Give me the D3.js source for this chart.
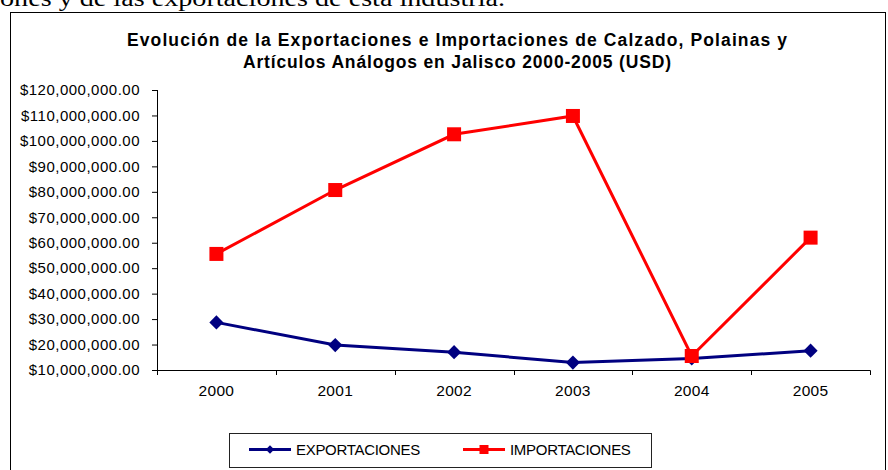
<!DOCTYPE html>
<html>
<head>
<meta charset="utf-8">
<script src="https://cdn.jsdelivr.net/npm/d3@7"></script>
<style>
  html, body { margin: 0; padding: 0; background: #fff; }
  svg { display: block; }
  text { font-family: "Liberation Sans", Arial, sans-serif; fill: #000; }
</style>
</head>
<body>
<svg id="chart" width="888" height="470"></svg>
<script>
// ---- data ----
const years = ["2000", "2001", "2002", "2003", "2004", "2005"];
const exportaciones = [28700000, 19800000, 17000000, 12900000, 14500000, 17600000];
const importaciones = [55600000, 80700000, 102600000, 109800000, 15500000, 62000000];
const yTicks = [10000000, 20000000, 30000000, 40000000, 50000000, 60000000,
                70000000, 80000000, 90000000, 100000000, 110000000, 120000000];
const titleLines = ["Evolución de la Exportaciones e Importaciones de Calzado, Polainas y",
                    "Artículos Análogos en Jalisco 2000-2005 (USD)"];
const seriesNames = ["EXPORTACIONES", "IMPORTACIONES"];
const pageText = "ones y de las exportaciones de esta industria.";

const svg = d3.select("#chart");

// page text cut at top
svg.append("text")
  .attr("x", 0).attr("y", 6)
  .attr("textLength", 505).attr("lengthAdjust", "spacingAndGlyphs")
  .style("font-family", "'Liberation Serif', 'Times New Roman', serif")
  .style("font-size", "24px")
  .text(pageText);

// chart frame
svg.append("rect")
  .attr("x", 10.5).attr("y", 12.5)
  .attr("width", 875).attr("height", 470)
  .attr("fill", "#fff").attr("stroke", "#000").attr("stroke-width", 1);

// title
const titleW = [660, 428];
svg.selectAll("text.title").data(titleLines).enter().append("text")
  .attr("class", "title")
  .attr("x", 457)
  .attr("y", (d, i) => 46 + i * 22)
  .attr("text-anchor", "middle")
  .attr("textLength", (d, i) => titleW[i])
  .attr("lengthAdjust", "spacing")
  .style("font-size", "17.5px").style("font-weight", "bold")
  .text(d => d);

// scales
const x = d3.scaleBand().domain(years).range([157, 870]).paddingInner(0).paddingOuter(0);
const y = d3.scaleLinear().domain([10000000, 120000000]).range([370, 90]);
const cx = d => x(d) + x.bandwidth() / 2;

// y axis
const fmt = d3.format(",.2f");
const yAxis = d3.axisLeft(y).tickValues(yTicks).tickSize(5).tickPadding(12)
  .tickFormat(d => "$" + fmt(d));
const gy = svg.append("g").attr("transform", "translate(157,0)").call(yAxis);
gy.select(".domain").attr("stroke", "#000").attr("d", "M0.5,90V370.5");
gy.selectAll(".tick line").attr("stroke", "#000");
gy.selectAll(".tick text")
  .style("font-size", "15px").style("letter-spacing", "0.5px")
  .style("font-family", "'Liberation Sans', Arial, sans-serif").attr("fill", "#000");

// x axis
const gx = svg.append("g").attr("transform", "translate(0,370)");
gx.append("line").attr("x1", 152).attr("x2", 870.5).attr("y1", 0.5).attr("y2", 0.5).attr("stroke", "#000");
const boundaries = years.map(d => x(d)).concat([x(years[years.length - 1]) + x.bandwidth()]);
gx.selectAll("line.xt").data(boundaries).enter().append("line")
  .attr("class", "xt")
  .attr("x1", d => Math.round(d) + 0.5).attr("x2", d => Math.round(d) + 0.5)
  .attr("y1", 0.5).attr("y2", 5).attr("stroke", "#000");
gx.selectAll("text.xl").data(years).enter().append("text")
  .attr("class", "xl")
  .attr("x", d => cx(d)).attr("y", 26)
  .attr("text-anchor", "middle")
  .style("font-size", "15.5px").style("letter-spacing", "0.3px")
  .text(d => d);

// lines
const line = d3.line().x((d, i) => cx(years[i])).y(d => y(d));
const navy = "#000080", red = "#FF0000";

svg.append("path").datum(exportaciones)
  .attr("d", line).attr("fill", "none").attr("stroke", navy).attr("stroke-width", 3);
svg.selectAll("path.exp").data(exportaciones).enter().append("path")
  .attr("class", "exp")
  .attr("d", d3.symbol().type(d3.symbolSquare).size(100)())
  .attr("transform", (d, i) => `translate(${cx(years[i])},${y(d)}) rotate(45)`)
  .attr("fill", navy);

svg.append("path").datum(importaciones)
  .attr("d", line).attr("fill", "none").attr("stroke", red).attr("stroke-width", 3);
svg.selectAll("rect.imp").data(importaciones).enter().append("rect")
  .attr("class", "imp")
  .attr("x", (d, i) => cx(years[i]) - 7).attr("y", d => y(d) - 7)
  .attr("width", 14).attr("height", 14)
  .attr("fill", red);

// legend
const lg = svg.append("g");
lg.append("rect").attr("x", 229.5).attr("y", 433.5).attr("width", 422).attr("height", 34)
  .attr("fill", "#fff").attr("stroke", "#222").attr("stroke-width", 1);
const legendItems = [
  { name: seriesNames[0], color: navy, x0: 249, tx: 296, shape: "diamond" },
  { name: seriesNames[1], color: red, x0: 463, tx: 510, shape: "square" }
];
legendItems.forEach(it => {
  lg.append("line").attr("x1", it.x0).attr("x2", it.x0 + 42).attr("y1", 449.5).attr("y2", 449.5)
    .attr("stroke", it.color).attr("stroke-width", 3);
  if (it.shape === "diamond") {
    lg.append("path").attr("d", d3.symbol().type(d3.symbolSquare).size(36)())
      .attr("transform", `translate(${it.x0 + 21},449.5) rotate(45)`).attr("fill", it.color);
  } else {
    lg.append("rect").attr("x", it.x0 + 21 - 4.5).attr("y", 445).attr("width", 9).attr("height", 9)
      .attr("fill", it.color);
  }
  lg.append("text").attr("x", it.tx).attr("y", 455)
    .style("font-size", "15px").style("letter-spacing", "-0.3px")
    .text(it.name);
});
</script>
</body>
</html>
